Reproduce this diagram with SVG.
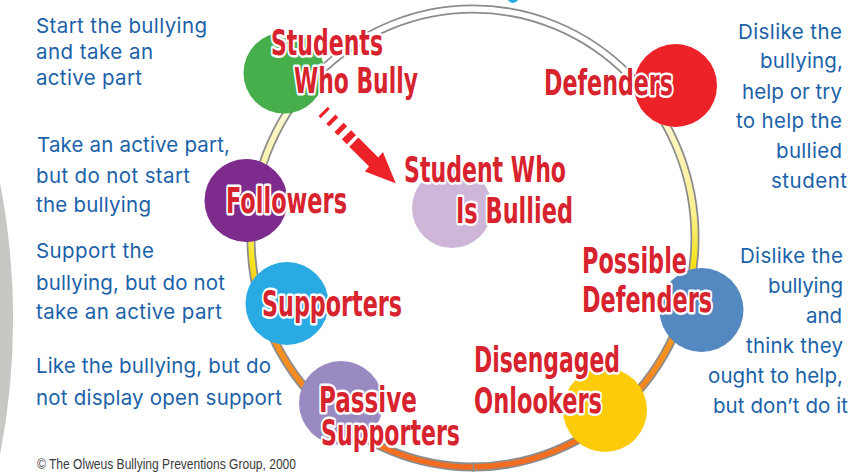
<svg xmlns="http://www.w3.org/2000/svg" width="867" height="473" viewBox="0 0 867 473">
  <defs>
    <linearGradient id="bandGrad" gradientUnits="userSpaceOnUse" x1="0" y1="9" x2="0" y2="467">
      <stop offset="0" stop-color="#ffffff"/>
      <stop offset="0.12" stop-color="#ffffff"/>
      <stop offset="0.26" stop-color="#fdf6c6"/>
      <stop offset="0.45" stop-color="#fbf08a"/>
      <stop offset="0.55" stop-color="#f6e41a"/>
      <stop offset="0.73" stop-color="#f7941d"/>
      <stop offset="1" stop-color="#f26b22"/>
    </linearGradient>
    <style>
      .lbl { font-family: "DejaVu Sans Condensed", "Liberation Sans Narrow", "Liberation Sans", sans-serif; font-weight: bold; font-size: 35px; fill: #d7232e; stroke: #ffffff; stroke-width: 5; stroke-linejoin: round; paint-order: stroke; }
      .desc { font-family: Inter, "Liberation Sans", sans-serif; font-size: 20.5px; fill: #1b62a9; }
      .copy { font-family: "Liberation Sans Narrow", "Liberation Sans", sans-serif; font-size: 14px; fill: #3a3a3a; }
      .red { fill: #ed2229; }
    </style>
  </defs>

  <rect x="0" y="0" width="867" height="473" fill="#ffffff"/>

  <!-- decorative fragments at the edges -->
  <path d="M0,183 A718,718 0 0 1 0,455 Z" fill="#c9c7c4"/>
  <path d="M508,0 L518,0 Q516,3 512,3 Q509,2 508,0 Z" fill="#29abe2"/>

  <!-- connectors: ring and arrow -->
  <g id="connectors">
    <g id="ring">
      <ellipse cx="473" cy="238" rx="222" ry="229" fill="none" stroke="#8c8c8c" stroke-width="9"/>
      <ellipse cx="473" cy="238" rx="222" ry="229" fill="none" stroke="url(#bandGrad)" stroke-width="5.5"/>
      <line x1="473.5" y1="462" x2="473.5" y2="472" stroke="#8c8c8c" stroke-width="1.5"/>
    </g>
    <g id="arrow" transform="translate(321,110) rotate(45)">
      <rect class="red" x="2.5" y="-7" width="3" height="13"/>
      <rect class="red" x="13.5" y="-7" width="4" height="13"/>
      <rect class="red" x="25" y="-7" width="5" height="13"/>
      <rect class="red" x="35.5" y="-7" width="7" height="13"/>
      <polygon class="red" points="46,-7 74,-7 73.5,-14 104.7,-1 74.5,12.5 74,6 46,6"/>
    </g>
  </g>

  <!-- nodes -->
  <g id="students-who-bully">
    <circle cx="284" cy="73" r="40.5" fill="#46ae4a"/>
    <text class="lbl" x="271" y="55" textLength="112" lengthAdjust="spacingAndGlyphs">Students</text>
    <text class="lbl" x="294" y="93" textLength="124" lengthAdjust="spacingAndGlyphs">Who Bully</text>
  </g>

  <g id="defenders">
    <circle cx="675.5" cy="85.5" r="41.5" fill="#ec2228"/>
    <text class="lbl" x="544" y="95" textLength="129" lengthAdjust="spacingAndGlyphs">Defenders</text>
  </g>

  <g id="student-who-is-bullied">
    <circle cx="452" cy="208" r="40" fill="#cdb6d8"/>
    <text class="lbl" x="404" y="182" textLength="162" lengthAdjust="spacingAndGlyphs">Student Who</text>
    <text class="lbl" x="456" y="223" textLength="117" lengthAdjust="spacingAndGlyphs">Is Bullied</text>
  </g>

  <g id="followers">
    <circle cx="246" cy="200.5" r="41.5" fill="#7d2c8d"/>
    <text class="lbl" x="226" y="213" textLength="121" lengthAdjust="spacingAndGlyphs">Followers</text>
  </g>

  <g id="supporters">
    <circle cx="287" cy="303.5" r="41.5" fill="#2aaae2"/>
    <text class="lbl" x="262" y="316" textLength="140" lengthAdjust="spacingAndGlyphs">Supporters</text>
  </g>

  <g id="passive-supporters">
    <circle cx="341" cy="403" r="42" fill="#9a8ac2"/>
    <text class="lbl" x="319" y="412" textLength="98" lengthAdjust="spacingAndGlyphs">Passive</text>
    <text class="lbl" x="321" y="445" textLength="139" lengthAdjust="spacingAndGlyphs">Supporters</text>
  </g>

  <g id="possible-defenders">
    <circle cx="701.5" cy="310" r="42" fill="#5488c0"/>
    <text class="lbl" x="582" y="273" textLength="105" lengthAdjust="spacingAndGlyphs">Possible</text>
    <text class="lbl" x="582" y="312" textLength="130" lengthAdjust="spacingAndGlyphs">Defenders</text>
  </g>

  <g id="disengaged-onlookers">
    <circle cx="605" cy="410" r="42" fill="#fecb0a"/>
    <text class="lbl" x="474" y="372" textLength="146" lengthAdjust="spacingAndGlyphs">Disengaged</text>
    <text class="lbl" x="474" y="413" textLength="128" lengthAdjust="spacingAndGlyphs">Onlookers</text>
  </g>

  <!-- descriptions -->
  <g id="descriptions">
    <text class="desc" x="36" y="33" textLength="171">Start the bullying</text>
    <text class="desc" x="36" y="59" textLength="117">and take an</text>
    <text class="desc" x="36" y="85" textLength="106">active part</text>

    <text class="desc" x="37" y="152" textLength="193">Take an active part,</text>
    <text class="desc" x="36" y="183" textLength="154">but do not start</text>
    <text class="desc" x="36" y="212" textLength="115">the bullying</text>

    <text class="desc" x="36" y="258" textLength="118">Support the</text>
    <text class="desc" x="36" y="290" textLength="189">bullying, but do not</text>
    <text class="desc" x="36" y="319" textLength="186">take an active part</text>

    <text class="desc" x="36" y="373" textLength="235">Like the bullying, but do</text>
    <text class="desc" x="36" y="405" textLength="246">not display open support</text>

    <text class="desc" x="738" y="39" textLength="104">Dislike the</text>
    <text class="desc" x="760" y="68" textLength="83">bullying,</text>
    <text class="desc" x="742" y="99" textLength="100">help or try</text>
    <text class="desc" x="736" y="128" textLength="106">to help the</text>
    <text class="desc" x="776" y="158" textLength="66">bullied</text>
    <text class="desc" x="771" y="188" textLength="76">student</text>

    <text class="desc" x="740" y="263" textLength="103">Dislike the</text>
    <text class="desc" x="768" y="293" textLength="75">bullying</text>
    <text class="desc" x="806" y="323" textLength="36">and</text>
    <text class="desc" x="746" y="353" textLength="97">think they</text>
    <text class="desc" x="708" y="383" textLength="135">ought to help,</text>
    <text class="desc" x="713" y="413" textLength="135">but don’t do it</text>
  </g>

  <text class="copy" x="37" y="469" textLength="259" lengthAdjust="spacingAndGlyphs">© The Olweus Bullying Preventions Group, 2000</text>
</svg>
